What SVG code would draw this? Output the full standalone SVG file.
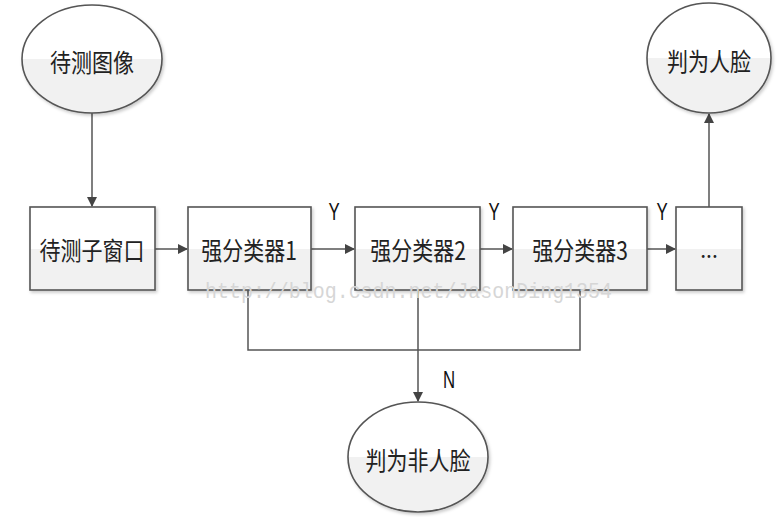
<svg xmlns="http://www.w3.org/2000/svg" width="779" height="517" viewBox="0 0 779 517">
<defs>
<linearGradient id="g" x1="0" y1="0" x2="0" y2="1">
<stop offset="0" stop-color="#ffffff"/>
<stop offset="0.5" stop-color="#ffffff"/>
<stop offset="0.5" stop-color="#f1f1f1"/>
<stop offset="1" stop-color="#f1f1f1"/>
</linearGradient>
<marker id="ah" markerWidth="10" markerHeight="10" refX="9" refY="5" orient="auto" markerUnits="userSpaceOnUse">
<path d="M0,0 L10,5 L0,10 Z" fill="#444"/>
</marker>
<filter id="sh" x="-10%" y="-10%" width="130%" height="130%">
<feDropShadow dx="1.5" dy="2" stdDeviation="1.5" flood-color="#000" flood-opacity="0.2"/>
</filter>
</defs>
<style>
.n{fill:url(#g);stroke:#555;stroke-width:1.6;filter:url(#sh)}
.t{font-family:"Noto Sans CJK SC","Liberation Sans",sans-serif;font-size:21px;fill:#222;text-anchor:middle;dominant-baseline:central}
.l{font-family:"Liberation Sans","DejaVu Sans",sans-serif;font-size:21px;fill:#111;text-anchor:middle}
.c{fill:none;stroke:#555;stroke-width:1.5}
.w{font-family:"Liberation Mono","DejaVu Sans Mono",monospace;font-size:22px;fill:#d6d6d6}
</style>
<rect width="779" height="517" fill="#fff"/>
<g id="connectors">
<path class="c" d="M92,113 V206" marker-end="url(#ah)"/>
<path class="c" d="M155,249 H187" marker-end="url(#ah)"/>
<path class="c" d="M311,249 H354" marker-end="url(#ah)"/>
<path class="c" d="M480,249 H512" marker-end="url(#ah)"/>
<path class="c" d="M647,249 H675" marker-end="url(#ah)"/>
<path class="c" d="M709,207 V114" marker-end="url(#ah)"/>
<path class="c" d="M248,290 V350 H580 V290"/>
<path class="c" d="M418,290 V401" marker-end="url(#ah)"/>
<text class="l" transform="translate(334,220) scale(0.8,1.15)">Y</text>
<text class="l" transform="translate(494,220) scale(0.8,1.15)">Y</text>
<text class="l" transform="translate(662,220) scale(0.8,1.15)">Y</text>
<text class="l" transform="translate(449,388) scale(0.8,1.15)">N</text>
</g>
<g id="n_image"><ellipse class="n" cx="92" cy="59" rx="70" ry="54"/><text class="t" transform="translate(92,61) scale(1,1.2)">待测图像</text></g>
<g id="n_window"><rect class="n" x="30" y="207" width="125" height="83"/><text class="t" transform="translate(92,249) scale(1,1.2)">待测子窗口</text></g>
<g id="n_c1"><rect class="n" x="188" y="207" width="123" height="83"/><text class="t" transform="translate(249,249) scale(1,1.2)">强分类器1</text></g>
<g id="n_c2"><rect class="n" x="355" y="207" width="125" height="83"/><text class="t" transform="translate(418,249) scale(1,1.2)">强分类器2</text></g>
<g id="n_c3"><rect class="n" x="513" y="207" width="134" height="83"/><text class="t" transform="translate(580,249) scale(1,1.2)">强分类器3</text></g>
<g id="n_more"><rect class="n" x="676" y="207" width="66" height="83"/><text class="t" x="709" y="249">...</text></g>
<g id="n_face"><ellipse class="n" cx="709" cy="58" rx="62" ry="55"/><text class="t" transform="translate(709,60) scale(1,1.2)">判为人脸</text></g>
<g id="n_nonface"><ellipse class="n" cx="418" cy="457" rx="70" ry="55"/><text class="t" transform="translate(418,459) scale(1,1.2)">判为非人脸</text></g>
<text class="w" x="205" y="298" textLength="407" lengthAdjust="spacingAndGlyphs">http://blog.csdn.net/JasonDing1354</text>
</svg>
